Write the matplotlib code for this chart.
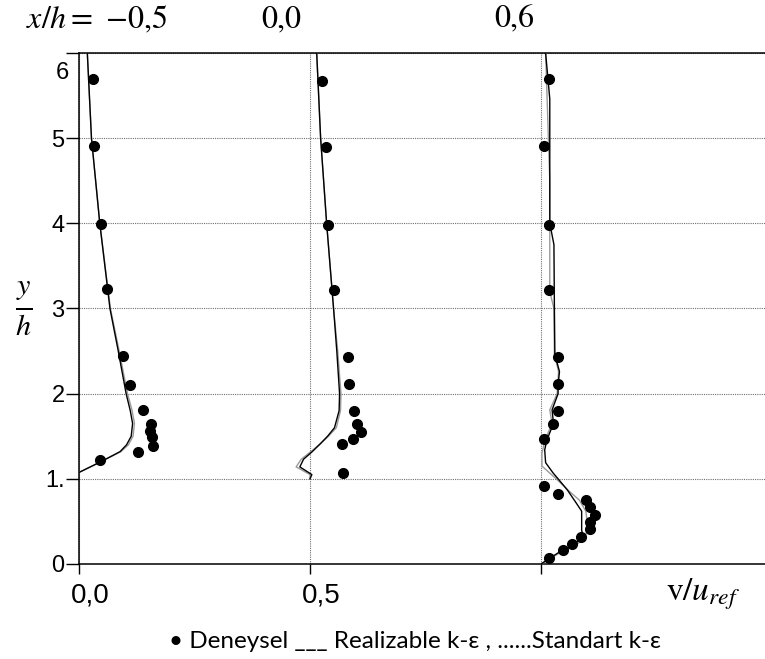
import matplotlib
matplotlib.use("Agg")
import matplotlib.pyplot as plt
import matplotlib.transforms as mtransforms

plt.rcParams['mathtext.fontset'] = 'stix'

# station offsets on the horizontal axis (profile k is drawn at base + v/u_ref)
stations = ['\u22120,5', '0,0', '0,6']
bases = [0.0, 0.5, 1.0]

# x/h = -0.5
exp1_v = [0.030, 0.032, 0.047, 0.061, 0.095, 0.110, 0.139, 0.155, 0.154, 0.157, 0.161, 0.128, 0.045]
exp1_y = [5.69, 4.91, 3.99, 3.23, 2.44, 2.10, 1.81, 1.64, 1.56, 1.49, 1.39, 1.31, 1.22]
rke1_y = [6.0, 5.0, 4.0, 3.0, 2.5, 2.0, 1.8, 1.65, 1.5, 1.4, 1.32, 1.2, 1.075]
rke1_v = [0.018, 0.027, 0.045, 0.067, 0.085, 0.102, 0.111, 0.116, 0.113, 0.103, 0.089, 0.047, 0.0]
ske1_v = [0.018, 0.027, 0.045, 0.068, 0.087, 0.105, 0.115, 0.120, 0.117, 0.107, 0.091, 0.047, 0.0]

# x/h = 0.0
exp2_v = [0.027, 0.035, 0.040, 0.052, 0.0815, 0.085, 0.095, 0.101, 0.110, 0.094, 0.069, 0.071]
exp2_y = [5.67, 4.90, 3.98, 3.22, 2.43, 2.11, 1.80, 1.64, 1.55, 1.47, 1.41, 1.07]
rke2_y = [6.0, 5.0, 4.0, 3.0, 2.5, 2.0, 1.8, 1.6, 1.5, 1.41, 1.32, 1.23, 1.14, 1.05, 1.0]
rke2_v = [0.0145, 0.023, 0.036, 0.051, 0.058, 0.064, 0.063, 0.053, 0.038, 0.022, 0.005, -0.014, -0.022, 0.004, 0.0]
ske2_v = [0.0145, 0.023, 0.036, 0.051, 0.060, 0.067, 0.066, 0.057, 0.040, 0.022, 0.002, -0.019, -0.030, 0.0, 0.0]

# x/h = 0.6
exp3_v = [0.018, 0.0065, 0.018, 0.017, 0.037, 0.037, 0.037, 0.027, 0.0065, 0.0065,
          0.0365, 0.097, 0.107, 0.1165, 0.107, 0.107, 0.0866, 0.067, 0.047, 0.017]
exp3_y = [5.69, 4.91, 3.98, 3.22, 2.43, 2.11, 1.80, 1.64, 1.47, 0.91,
          0.82, 0.75, 0.67, 0.58, 0.49, 0.41, 0.32, 0.24, 0.16, 0.074]
rke3_y = [6.0, 5.46, 5.0, 4.0, 3.75, 3.0, 2.46, 2.26, 2.1, 2.0, 1.81, 1.65, 1.46, 1.34, 1.19,
          1.145, 1.07, 1.0, 0.87, 0.71, 0.62, 0.5, 0.40, 0.32, 0.22, 0.145, 0.0]
rke3_v = [0.010, 0.019, 0.019, 0.019, 0.028, 0.029, 0.030, 0.040, 0.037, 0.037, 0.024, 0.027, 0.013, 0.008, 0.010,
          0.016, 0.026, 0.037, 0.057, 0.077, 0.088, 0.088, 0.088, 0.091, 0.070, 0.041, 0.0]
ske3_y = [6.0, 5.0, 4.5, 4.0, 3.2, 3.0, 2.46, 2.26, 2.0, 1.81, 1.65, 1.46, 1.3, 1.15,
          1.0, 0.87, 0.75, 0.62, 0.5, 0.40, 0.30, 0.22, 0.145, 0.0]
ske3_v = [0.010, 0.016, 0.019, 0.019, 0.019, 0.028, 0.029, 0.038, 0.035, 0.019, 0.024, 0.009, 0.002, 0.002,
          0.033, 0.058, 0.083, 0.097, 0.100, 0.100, 0.095, 0.075, 0.045, 0.0]

profiles = [
    (exp1_v, exp1_y, rke1_v, rke1_y, ske1_v, rke1_y),
    (exp2_v, exp2_y, rke2_v, rke2_y, ske2_v, rke2_y),
    (exp3_v, exp3_y, rke3_v, rke3_y, ske3_v, ske3_y),
]

yticks = [0, 1, 2, 3, 4, 5, 6]
ytick_labels = ['0', '1.', '2', '3', '4', '5', '']
xticks = [0.0, 0.5, 1.0]
xtick_labels = ['0,0', '0,5', '']

W, H = 765, 659
fig = plt.figure(figsize=(W / 100, H / 100), dpi=100)
ax = fig.add_axes([79 / W, (H - 564) / H, 1 - 79 / W, (564 - 53) / H])

for (ev, ey, rv, ry, sv, sy), b in zip(profiles, bases):
    ax.plot([b + v for v in sv], sy, color='#9a9a9a', lw=1.0, zorder=3)
    ax.plot([b + v for v in rv], ry, color='black', lw=1.0, zorder=4)
    ax.plot([b + v for v in ev], ey, 'o', color='black', ms=7, zorder=5)

ax.set_xlim(0, 686 / 462)
ax.set_ylim(0, 6)

ax.set_yticks(yticks)
ax.set_yticklabels(ytick_labels, fontfamily='Liberation Sans', fontsize=17)
ax.set_xticks(xticks)
ax.set_xticklabels(xtick_labels, fontfamily=['Liberation Sans Narrow', 'Liberation Sans'], fontsize=20)
ax.tick_params(axis='y', length=9.4, pad=1, width=1)
ax.tick_params(axis='x', length=7.2, pad=6, width=1)
shift = mtransforms.ScaledTranslation(11 / 100, 0, fig.dpi_scale_trans)
for lab in ax.get_xticklabels():
    lab.set_transform(lab.get_transform() + shift)

ax.grid(True, color='#707070', lw=0.8, linestyle=(0, (1, 1)))
ax.set_axisbelow(True)
for side in ('left', 'top', 'bottom'):
    ax.spines[side].set_linewidth(1.1)
ax.spines['right'].set_visible(False)

# top tick label sits lower than its grid line
ax.text(-0.014, 5.77, '6', transform=mtransforms.blended_transform_factory(ax.transAxes, ax.transData),
        ha='right', va='center', fontfamily='Liberation Sans', fontsize=17)

# station headers
fig.text(26 / W, 1 - 20 / H, r'$x/h=$ ' + stations[0], ha='left', va='center',
         fontfamily='STIXGeneral', fontsize=23)
fig.text(281 / W, 1 - 20 / H, stations[1], ha='center', va='center', fontfamily='STIXGeneral', fontsize=23)
fig.text(514 / W, 1 - 20 / H, stations[2], ha='center', va='center', fontfamily='STIXGeneral', fontsize=23)

fig.text(24 / W, 1 - 309 / H, r'$\frac{y}{h}$', ha='center', va='center', fontsize=31)
fig.text(703 / W, 1 - 594 / H, r'v/$u_{ref}$', ha='center', va='center', fontfamily='STIXGeneral', fontsize=24)

fig.text(415 / W, 1 - 641 / H, '\u2022 Deneysel ___ Realizable k-\u03b5 , ......Standart k-\u03b5',
         ha='center', va='center', fontfamily=['Lato', 'Open Sans', 'DejaVu Sans'], fontsize=17.5)

fig.savefig('out.png', dpi=100)
